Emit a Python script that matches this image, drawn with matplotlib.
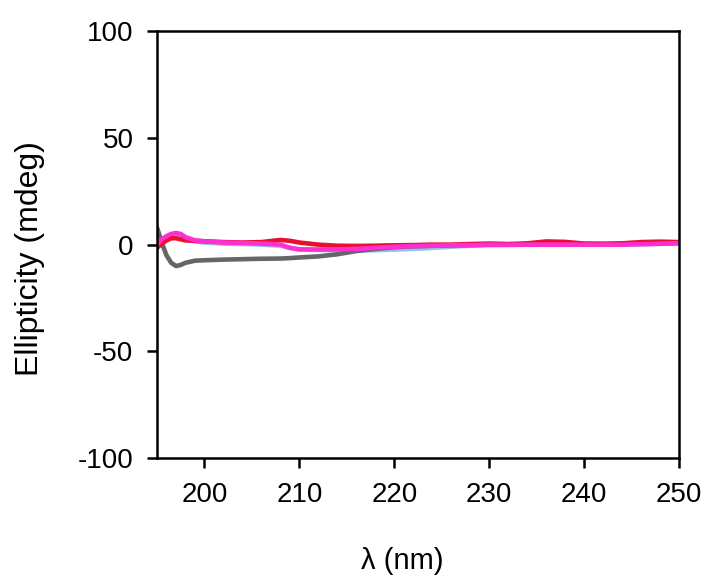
import matplotlib
matplotlib.use('Agg')
import matplotlib.pyplot as plt

plt.rcParams['font.family'] = ['Liberation Sans', 'DejaVu Sans']
plt.rcParams['axes.unicode_minus'] = False

# Wavelength (nm) and ellipticity (mdeg)
wavelength = [195, 195.5, 196, 196.5, 197, 197.5, 198, 199, 200, 202, 204, 206, 208, 209,
              210, 212, 214, 216, 218, 220, 222, 224, 226, 228, 230, 232, 234, 236, 238,
              240, 242, 244, 246, 248, 250]
gray = [8, 1, -5, -8.5, -10, -9.5, -8.5, -7.5, -7.3, -7, -6.8, -6.6, -6.5, -6.3,
        -6, -5.5, -4.5, -3, -2, -1.2, -0.8, -0.5, -0.3, -0.2, 0, 0, 0, 0.2, 0.2,
        0.3, 0.3, 0.4, 0.5, 0.6, 0.8]
blue = [0, 1.5, 3, 4, 4.5, 4, 3, 1.5, 1, 0.5, 0.3, 0, -0.5, -1.5,
        -2.2, -2.5, -2.6, -2.7, -2.6, -2.3, -2.0, -1.5, -1, -0.5, -0.3, -0.2, 0, 0, 0,
        0, 0, 0, 0.2, 0.4, 0.6]
red = [-1.5, 0.5, 2, 3, 3, 2.5, 2, 1.8, 1.6, 1.2, 1, 1.2, 2.2, 1.8,
       1, 0, -0.5, -0.6, -0.5, -0.3, -0.2, 0, 0, 0.3, 0.5, 0.3, 0.6, 1.5, 1.3,
       0.5, 0.4, 0.6, 1.2, 1.4, 1.2]
magenta = [0, 2.5, 4, 5, 5.5, 5, 3.5, 2, 1.5, 1, 0.8, 0.5, 0, -1.5,
           -2.2, -2.3, -2.2, -2, -1.5, -1, -0.7, -0.5, -0.3, -0.2, 0, 0, 0, 0, 0,
           0, 0, 0, 0.2, 0.4, 0.7]

fig = plt.figure(figsize=(7.04, 5.86), dpi=100)
ax = fig.add_axes([0.223, 0.218, 0.7415, 0.729])

ax.plot(wavelength, blue, color='#8fc4f0', lw=3.3)
ax.plot(wavelength, gray, color='#666666', lw=3.3)
ax.plot(wavelength, red, color='#e8102e', lw=3.3)
ax.plot(wavelength, magenta, color='#ff2ed0', lw=3.3)

ax.set_xlim(195, 250)
ax.set_ylim(-100, 100)
ax.set_xticks([200, 210, 220, 230, 240, 250])
ax.set_yticks([-100, -50, 0, 50, 100])

for s in ax.spines.values():
    s.set_linewidth(1.8)
ax.tick_params(axis='both', direction='out', length=7, width=1.8, labelsize=20)
ax.tick_params(axis='x', pad=10)
ax.tick_params(axis='y', pad=10)

ax.set_xlabel('λ (nm)', fontsize=21)
ax.set_ylabel('Ellipticity (mdeg)', fontsize=23)
ax.xaxis.set_label_coords(0.469, -0.241)
ax.yaxis.set_label_coords(-0.243, 0.468)
ax.xaxis.label.set_va('center')
ax.yaxis.label.set_va('center')

fig.savefig('out.png', dpi=100)
